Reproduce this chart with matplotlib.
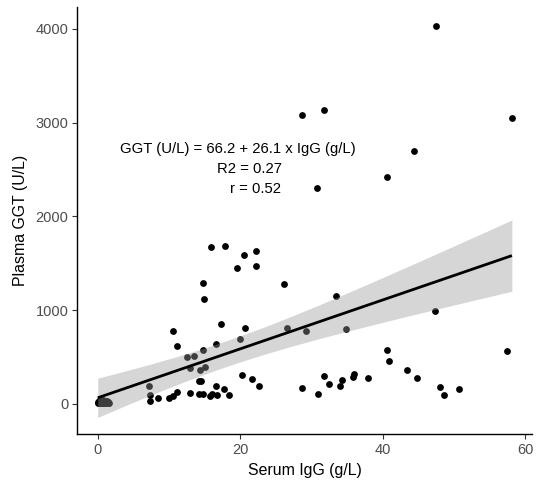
import numpy as np
import matplotlib
matplotlib.use("Agg")
import matplotlib.pyplot as plt

# Serum IgG (g/L) and plasma GGT (U/L) for each animal
# (first block: animals with IgG close to zero)
igg = [0.0, 0.1, 0.2, 0.2, 0.3, 0.3, 0.4, 0.4, 0.5, 0.5,
       0.6, 0.6, 0.7, 0.7, 0.8, 0.8, 0.9, 0.9, 1.0, 1.0,
       1.1, 1.1, 1.2, 1.2, 1.3, 1.3, 1.4, 1.4, 1.5, 1.6,
       7.2, 7.4, 7.3, 8.4, 10.0, 10.6, 11.1, 10.6, 11.1, 12.5,
       13.5, 14.7, 16.6, 19.9, 12.9, 14.4, 15.0, 14.2, 14.5, 16.6,
       17.7, 20.3, 21.7, 22.6, 12.9, 14.2, 14.8, 15.7, 16.0, 16.7,
       18.4, 14.7, 14.9, 15.9, 17.8, 20.5, 22.2, 19.5, 22.2, 17.3,
       20.7, 26.2, 33.4, 26.5, 29.2, 34.8, 28.6, 30.9, 31.7, 32.5,
       34.0, 34.2, 35.8, 36.0, 37.9, 40.6, 40.8, 43.4, 44.8, 48.0,
       48.6, 50.7, 57.4, 47.3, 28.7, 31.7, 30.7, 40.6, 44.3, 47.4, 58.1]
ggt = [12, 25, 8, 30, 18, 40, 15, 22, 10, 35,
       20, 28, 14, 38, 9, 24, 17, 31, 12, 26,
       19, 33, 11, 21, 16, 29, 13, 23, 18, 15,
       195, 96, 28, 60, 60, 89, 131, 782, 619, 505,
       512, 579, 640, 690, 381, 363, 398, 242, 242, 195,
       165, 309, 263, 192, 114, 103, 103, 85, 107, 93,
       97, 1294, 1116, 1678, 1689, 1593, 1629, 1447, 1468, 850,
       812, 1277, 1149, 811, 779, 797, 169, 103, 295, 212,
       193, 258, 283, 323, 282, 580, 460, 365, 282, 178,
       96, 164, 560, 995, 3083, 3136, 2307, 2421, 2699, 4035, 3054]

# Reported linear fit: GGT = intercept + slope * IgG
intercept = 66.2
slope = 26.1
r2_text = "0.27"
r_text = "0.52"

x_ticks = [0, 20, 40, 60]
y_ticks = [0, 1000, 2000, 3000, 4000]

plt.rcParams['font.family'] = ['Liberation Sans', 'DejaVu Sans']

x = np.asarray(igg, float)
y = np.asarray(ggt, float)
n = len(x)

# 95% confidence band of the fitted mean
resid = y - (intercept + slope * x)
s = np.sqrt(np.sum(resid ** 2) / (n - 2))
t975 = 1.984
xs = np.linspace(x.min(), x.max(), 200)
fit = intercept + slope * xs
se = s * np.sqrt(1.0 / n + (xs - x.mean()) ** 2 / np.sum((x - x.mean()) ** 2))
lo, hi = fit - t975 * se, fit + t975 * se

fig = plt.figure(figsize=(5.37, 4.82), dpi=100)
ax = fig.add_axes([0.144, 0.0996, 0.846, 0.886])

# points first, band drawn over them (points inside the band look grey)
ax.scatter(x, y, s=24, color='black', linewidths=0, zorder=2)
ax.fill_between(xs, lo, hi, color='#999999', alpha=0.4, linewidth=0, zorder=3)
ax.plot(xs, fit, color='black', lw=2.0, zorder=4, solid_capstyle='butt')

ax.text(19.6, 2720, f"GGT (U/L) = {intercept} + {slope} x IgG (g/L)",
        ha='center', va='center', fontsize=10.7)
ax.text(21.3, 2510, f"R2 = {r2_text}", ha='center', va='center', fontsize=10.7)
ax.text(22.2, 2290, f"r = {r_text}", ha='center', va='center', fontsize=10.7)

ax.set_xlim(-2.86, 60.87)
ax.set_ylim(-320, 4235)
ax.set_xticks(x_ticks)
ax.set_yticks(y_ticks)
ax.tick_params(axis='both', direction='out', length=3.5, width=0.8,
               color='#333333', labelcolor='#4D4D4D', labelsize=10.5, pad=3)
for side in ('top', 'right'):
    ax.spines[side].set_visible(False)
for side in ('left', 'bottom'):
    ax.spines[side].set_linewidth(1.0)
    ax.spines[side].set_color('black')

ax.set_xlabel("Serum IgG (g/L)", fontsize=11.4, labelpad=4)
ax.set_ylabel("Plasma GGT (U/L)", fontsize=11.4, labelpad=5)

fig.savefig("out.png", dpi=100)
